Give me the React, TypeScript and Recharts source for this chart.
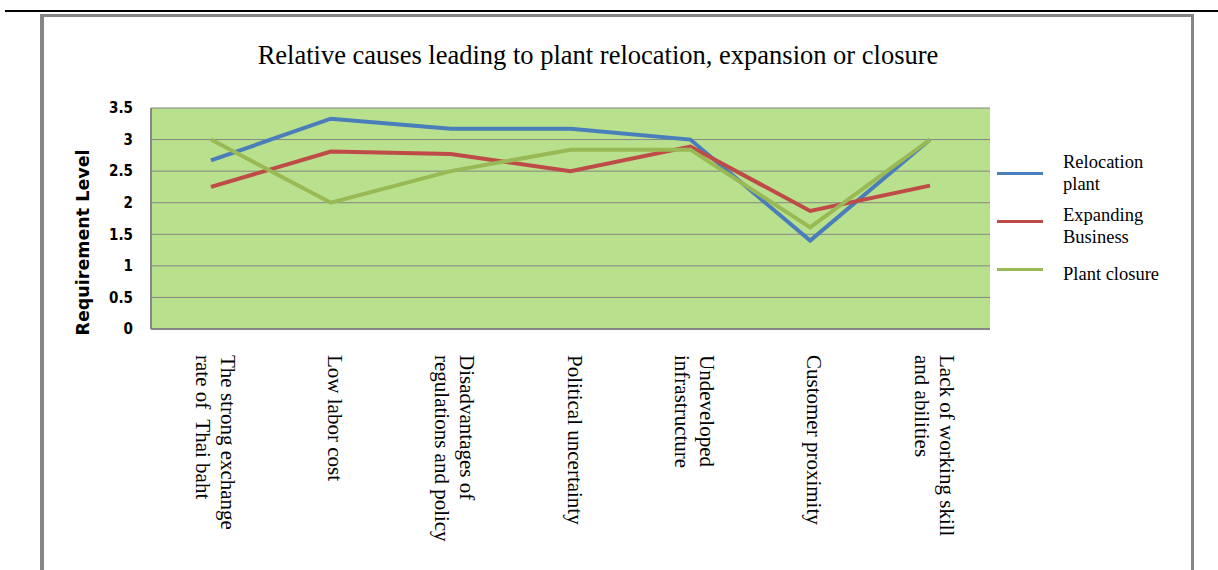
import { CartesianGrid, Legend, Line, LineChart, XAxis, YAxis } from "recharts";

const categories = [
  "The strong exchange rate of  Thai baht",
  "Low labor cost",
  "Disadvantages of regulations and policy",
  "Political uncertainty",
  "Undeveloped infrastructure",
  "Customer proximity",
  "Lack of working skill and abilities",
];

const tickLabelLines = [
  ["The strong exchange", "rate of  Thai baht"],
  ["Low labor cost"],
  ["Disadvantages of", "regulations and policy"],
  ["Political uncertainty"],
  ["Undeveloped", "infrastructure"],
  ["Customer proximity"],
  ["Lack of working skill", "and abilities"],
];

const seriesNames = ["Relocation plant", "Expanding Business", "Plant closure"];

const relocationPlant = [2.67, 3.33, 3.17, 3.17, 3.0, 1.4, 3.0];
const expandingBusiness = [2.25, 2.81, 2.77, 2.5, 2.89, 1.87, 2.27];
const plantClosure = [3.0, 2.0, 2.5, 2.84, 2.84, 1.61, 3.0];

const yTicks = [0, 0.5, 1, 1.5, 2, 2.5, 3, 3.5];

const data = categories.map((cause, i) => ({
  cause,
  relocation: relocationPlant[i],
  expanding: expandingBusiness[i],
  closure: plantClosure[i],
}));

const GRID = "#868686";

function CauseTick(props: any) {
  const { x, y, payload } = props;
  const lines = tickLabelLines[payload.index] ?? [payload.value];
  const lh = 25;
  return (
    <g transform={`translate(${x + 4},${y}) rotate(90)`}>
      {lines.map((line: string, i: number) => (
        <text
          key={i}
          x={0}
          y={(i - (lines.length - 1) / 2) * lh}
          dominantBaseline="central"
          textAnchor="start"
          fontFamily="'Liberation Serif', 'Times New Roman', serif"
          fontSize={21}
          fill="#000"
          style={{ whiteSpace: "pre" }}
        >
          {line}
        </text>
      ))}
    </g>
  );
}

function YTitle(props: any) {
  const { viewBox } = props;
  const cx = viewBox.x + viewBox.width - 68;
  const cy = viewBox.y + viewBox.height / 2 + 24;
  return (
    <text
      x={cx}
      y={cy}
      transform={`rotate(-90, ${cx}, ${cy})`}
      textAnchor="middle"
      dominantBaseline="central"
      fontFamily="'DejaVu Sans', sans-serif"
      fontWeight="bold"
      fontSize={17.5}
      fill="#000"
    >
      Requirement Level
    </text>
  );
}

function LegendBox(props: any) {
  const payload = [...(props.payload ?? [])].sort(
    (a: any, b: any) => seriesNames.indexOf(a.value) - seriesNames.indexOf(b.value)
  );
  return (
    <div style={{ display: "flex", flexDirection: "column" }}>
      {payload.map((entry: any, i: number) => (
        <div
          key={entry.value}
          style={{ display: "flex", alignItems: "center", height: 48 }}
        >
          <div
            style={{ width: 46, height: 3, background: entry.color, marginRight: 20, flex: "none" }}
          />
          <div
            style={{
              width: 110,
              paddingTop: i === 0 ? 0 : 10,
              fontFamily: "'Liberation Serif', 'Times New Roman', serif",
              fontSize: 18.5,
              lineHeight: "22px",
              color: "#000",
            }}
          >
            {entry.value}
          </div>
        </div>
      ))}
    </div>
  );
}

export default function App() {
  return (
    <div
      style={{
        position: "absolute",
        left: 0,
        top: 0,
        width: 1218,
        height: 570,
        overflow: "hidden",
        background: "#fff",
      }}
    >
      <div style={{ position: "absolute", left: 5, right: 0, top: 10, height: 2, background: "#000" }} />
      <div
        style={{
          position: "absolute",
          left: 40,
          top: 14,
          width: 1147,
          height: 600,
          borderLeft: `4px solid ${GRID}`,
          borderTop: `3px solid ${GRID}`,
          borderRight: `3px solid ${GRID}`,
        }}
      />
      <div
        style={{
          position: "absolute",
          left: 0,
          width: 1196,
          top: 40,
          textAlign: "center",
          fontFamily: "'Liberation Serif', 'Times New Roman', serif",
          fontSize: 26.5,
          color: "#000",
        }}
      >
        Relative causes leading to plant relocation, expansion or closure
      </div>
      <div style={{ position: "absolute", left: 0, top: 0 }}>
        <LineChart
          width={1218}
          height={570}
          data={data}
          margin={{ top: 108, right: 228, left: 0, bottom: 0 }}
        >
          <CartesianGrid vertical={false} stroke={GRID} fill="#B9E08C" fillOpacity={1} />
          <XAxis
            dataKey="cause"
            padding={{ left: 60, right: 60 }}
            height={241}
            interval={0}
            tickLine={false}
            tickMargin={20}
            axisLine={{ stroke: GRID, strokeWidth: 2 }}
            tick={<CauseTick />}
          />
          <YAxis
            width={151}
            domain={[0, 3.5]}
            ticks={yTicks}
            tickLine={false}
            tickMargin={12}
            axisLine={{ stroke: GRID, strokeWidth: 2 }}
            tick={{
              fill: "#000",
              fontSize: 15,
              fontWeight: "bold",
              fontFamily: "'DejaVu Sans Condensed', 'Liberation Sans Narrow', sans-serif",
            }}
            label={<YTitle />}
          />
          <Legend
            layout="vertical"
            align="center"
            verticalAlign="middle"
            wrapperStyle={{ left: 997, top: 149, width: 200 }}
            content={<LegendBox />}
          />
          <Line
            name="Relocation plant"
            dataKey="relocation"
            stroke="#4A7EBB"
            strokeWidth={4}
            dot={false}
            isAnimationActive={false}
          />
          <Line
            name="Expanding Business"
            dataKey="expanding"
            stroke="#BE4B48"
            strokeWidth={4}
            dot={false}
            isAnimationActive={false}
          />
          <Line
            name="Plant closure"
            dataKey="closure"
            stroke="#98B954"
            strokeWidth={4}
            dot={false}
            isAnimationActive={false}
          />
        </LineChart>
      </div>
    </div>
  );
}
